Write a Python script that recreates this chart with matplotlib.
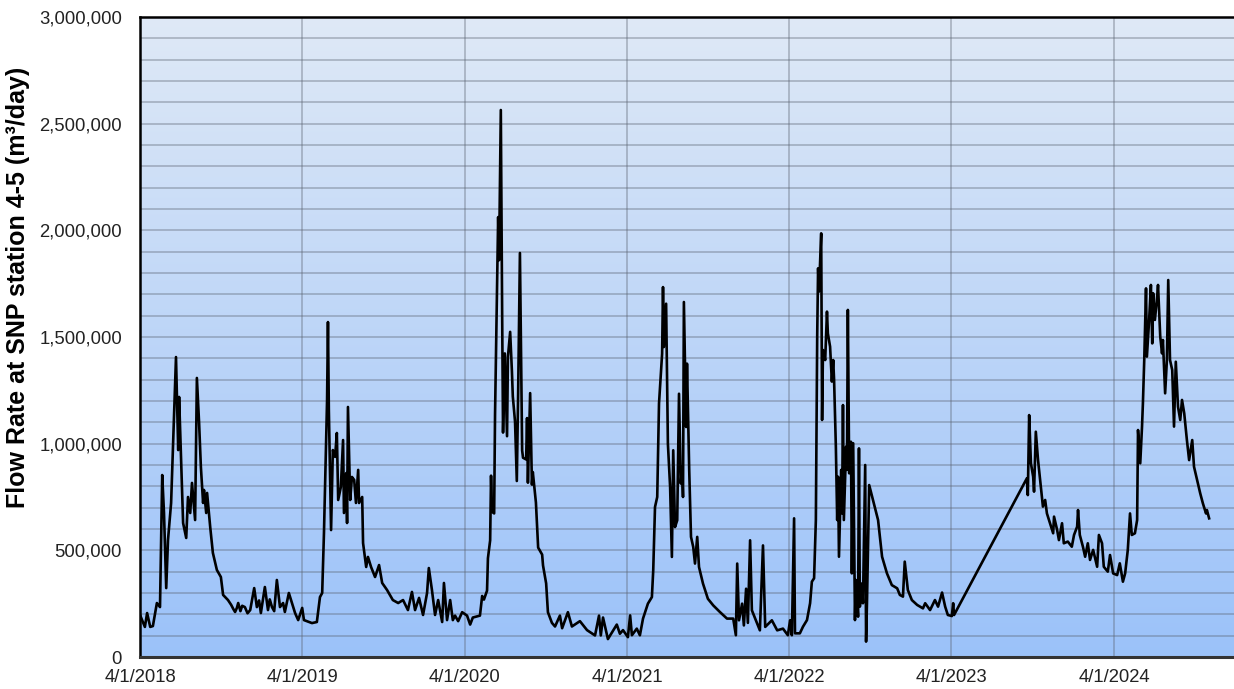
import numpy as np
import pandas as pd
import matplotlib
matplotlib.use("Agg")
import matplotlib.pyplot as plt
from matplotlib.colors import LinearSegmentedColormap
from matplotlib.ticker import FuncFormatter, MultipleLocator

plt.rcParams['font.family'] = ['Liberation Sans', 'DejaVu Sans']

START = pd.Timestamp('2018-04-01')

# day offsets from 4/1/2018 and flow (thousand m3/day)
days_2018 = [0, 11, 16, 23, 29, 38, 45, 50, 54, 59, 63, 70, 74, 81, 86, 88, 92, 97, 104, 108,
             113, 117, 124, 128, 133, 137, 142, 144, 149, 151, 158, 164, 173, 182, 187, 198,
             205, 210, 214, 218, 221, 226, 230, 236, 242, 248, 257, 263, 268, 272, 281, 288, 292,
             297, 302, 308, 315, 322, 326, 335, 342, 349, 356]
flow_2018 = [197, 141, 206, 141, 145, 253, 234, 853, 675, 323, 548, 722, 970, 1406, 970, 1219, 956, 628, 558, 750,
             675, 816, 642, 1308, 1097, 891, 722, 783, 675, 769, 609, 488, 408, 375, 291, 267,
             245, 225, 211, 230, 253, 215, 240, 234, 205, 220, 323, 234, 265, 206, 328, 220, 270,
             234, 215, 361, 234, 253, 211, 300, 253, 206, 173]

days_2019 = [365, 369, 387, 398, 405, 410, 414, 421, 423, 425, 430, 434, 439, 443, 446, 452, 457, 459, 464,
             466, 468, 473, 477, 482, 486, 491, 493, 500, 502, 509, 513, 520, 529, 538, 545, 556, 569,
             581, 592, 603, 612, 619, 628, 637, 646, 650, 657, 664, 671, 680, 684, 691, 698, 704, 709,
             716, 725]
flow_2019 = [230, 173, 159, 164, 281, 300, 581, 1205, 1570, 1158, 595, 970, 938, 1050, 736, 797, 1017, 675, 862,
             628, 1172, 736, 844, 830, 722, 877, 722, 750, 534, 422, 469, 422, 375, 431, 347, 314, 267,
             253, 267, 220, 305, 220, 277, 197, 300, 417, 314, 197, 267, 164, 347, 173, 267, 173, 194,
             168, 210]

days_2020 = [736, 743, 749, 765, 770, 774, 781, 783, 788, 790, 792, 797, 799, 803, 806, 808, 812, 815, 817,
             821, 826, 828, 833, 837, 839, 844, 848, 851, 855, 860, 862, 869, 871, 873, 878, 882, 884,
             891, 896, 905, 907, 914, 918, 927, 934, 945, 950, 963, 972, 990, 1006, 1024, 1033, 1037,
             1042, 1053, 1073, 1080, 1087, 1098]
flow_2020 = [194, 152, 185, 194, 286, 269, 311, 463, 547, 850, 682, 673, 1136, 1658, 2062, 1860, 2564, 1608, 1052,
             1423, 1035, 1406, 1524, 1338, 1221, 1103, 825, 1237, 1894, 968, 934, 926, 1120, 817, 1237, 808, 867,
             724, 513, 480, 429, 345, 210, 160, 143, 194, 135, 210, 143, 168, 126, 101, 194, 101,
             185, 84, 152, 109, 126, 93]

days_2021 = [1103, 1107, 1118, 1125, 1132, 1143, 1152, 1155, 1159, 1164, 1168, 1175, 1177, 1179, 1184, 1186,
             1188, 1193, 1197, 1200, 1204, 1209, 1213, 1217, 1220, 1222, 1224, 1229, 1231, 1236, 1240,
             1245, 1249, 1254, 1258, 1267, 1278, 1290, 1305, 1321, 1335, 1341, 1344, 1348, 1355, 1359,
             1364, 1368, 1373, 1377, 1389, 1395, 1402, 1407, 1422, 1434, 1447, 1458]
flow_2021 = [195, 102, 133, 102, 180, 250, 281, 406, 703, 750, 1188, 1422, 1734, 1453, 1656, 1344,
             1000, 797, 469, 969, 609, 641, 1234, 813, 891, 750, 1664, 1078, 1375, 875, 563,
             516, 438, 563, 422, 344, 273, 242, 211, 180, 180, 102, 438, 172, 250, 148,
             320, 160, 547, 219, 156, 125, 523, 141, 172, 125, 133, 102]

days_2022 = [1463, 1467, 1472, 1474, 1485, 1492, 1501, 1508, 1512, 1517, 1521, 1524, 1526, 1528, 1533, 1535,
             1537, 1542, 1546, 1548, 1553, 1557, 1560, 1562, 1566, 1569, 1571, 1573, 1578, 1580, 1582,
             1584, 1589, 1591, 1593, 1596, 1600, 1602, 1605, 1609, 1611, 1616, 1618, 1620, 1625, 1627,
             1632, 1634, 1636, 1641, 1661, 1670, 1681, 1692, 1704, 1710, 1717, 1721, 1728, 1737, 1749,
             1762, 1767, 1778, 1789, 1796, 1805, 1812, 1818, 1827, 1830, 1832]
flow_2022 = [172, 102, 650, 111, 111, 142, 173, 252, 353, 369, 642, 1502, 1822, 1713, 1986, 1111,
             1439, 1392, 1619, 1517, 1455, 1291, 1392, 1300, 986, 642, 845, 470, 877, 673, 1181,
             642, 986, 877, 1627, 861, 1009, 392, 1002, 173, 361, 189, 978, 236, 345, 252,
             900, 72, 252, 806, 642, 470, 392, 337, 322, 291, 283, 447, 314, 267, 244,
             228, 252, 220, 267, 236, 302, 236, 197, 192, 252, 197]

days_2023 = [1996, 1998, 2001, 2005, 2010, 2012, 2016, 2021, 2025, 2032, 2037, 2041, 2048, 2055, 2057, 2064,
             2068, 2075, 2079, 2088, 2097, 2102, 2109, 2111, 2115, 2122, 2127, 2133, 2138, 2145, 2154,
             2158, 2165, 2169, 2178, 2183, 2190, 2199, 2205, 2212, 2217, 2223, 2228, 2232, 2239, 2244,
             2246, 2251, 2255, 2257, 2260, 2264, 2266, 2271, 2275, 2278, 2280, 2284, 2289, 2291, 2296,
             2300, 2302, 2307, 2311, 2314, 2318, 2323, 2327, 2331, 2336, 2341, 2345, 2350, 2356, 2361,
             2368, 2372, 2379, 2386, 2392, 2399, 2401, 2406]
flow_2023 = [838, 759, 1134, 908, 845, 775, 1056, 923, 845, 705, 736, 673, 627, 580, 658, 595,
             548, 627, 533, 541, 517, 572, 611, 689, 572, 517, 470, 533, 455, 502, 423,
             572, 533, 423, 400, 478, 392, 384, 439, 353, 392, 502, 673, 572, 580, 642,
             1064, 908, 1080, 1189, 1392, 1728, 1408, 1580, 1744, 1470, 1705, 1580, 1689, 1744, 1502,
             1423, 1486, 1236, 1392, 1767, 1392, 1345, 1080, 1384, 1173, 1111, 1205, 1142, 1017, 923,
             1017, 892, 830, 767, 720, 673, 689, 650]

x_tick_labels = ['4/1/2018', '4/1/2019', '4/1/2020', '4/1/2021', '4/1/2022', '4/1/2023', '4/1/2024']
y_label = 'Flow Rate at SNP station 4-5 (m³/day)'

days = np.concatenate([days_2018, days_2019, days_2020, days_2021, days_2022, days_2023])
flow = np.concatenate([flow_2018, flow_2019, flow_2020, flow_2021, flow_2022, flow_2023]) * 1000.0
dates = START + pd.to_timedelta(days, unit='D')

fig = plt.figure(figsize=(12.34, 6.89), dpi=100)
pos = [140 / 1234, 1 - 657 / 689, 1094 / 1234, 640 / 689]

# gradient background
bg = fig.add_axes(pos, zorder=0)
cmap = LinearSegmentedColormap.from_list('bg', ['#9BC2FA', '#DFE9F6'])
grad = np.linspace(0, 1, 256).reshape(-1, 1)
bg.imshow(grad, aspect='auto', cmap=cmap, origin='lower', extent=[0, 1, 0, 1])
bg.set_axis_off()

ax = fig.add_axes(pos, zorder=1)
ax.set_facecolor('none')

ax.plot(dates, flow, color='black', lw=1.9, zorder=3, solid_joinstyle='round')

tick_dates = [pd.Timestamp(f'{y}-04-01') for y in range(2018, 2025)]
ax.set_xlim(START, START + pd.Timedelta(days=2462))
ax.set_ylim(0, 3_000_000)
ax.set_xticks(tick_dates)
ax.set_xticklabels(x_tick_labels)
ax.yaxis.set_major_locator(MultipleLocator(500_000))
ax.yaxis.set_minor_locator(MultipleLocator(100_000))
ax.yaxis.set_major_formatter(FuncFormatter(lambda v, p: f'{int(v):,}'))

ax.grid(True, which='both', axis='y', color='#5a6270', alpha=0.38, lw=1.3, zorder=1)
ax.grid(True, which='major', axis='x', color='#5a6270', alpha=0.38, lw=1.3, zorder=1)
ax.set_axisbelow(True)

ax.tick_params(axis='both', which='both', length=0, labelsize=13.3, colors='#222222')
ax.tick_params(axis='y', pad=13)
ax.tick_params(axis='x', pad=9)

for s in ['left', 'top']:
    ax.spines[s].set_linewidth(1.8)
    ax.spines[s].set_color('black')
ax.spines['bottom'].set_linewidth(2.2)
ax.spines['bottom'].set_color('#333333')
ax.spines['right'].set_visible(False)

ax.set_ylabel(y_label, fontsize=18, fontweight='bold')
ax.yaxis.set_label_coords(-0.1005, 0.578)

fig.savefig('out.png', dpi=100)
